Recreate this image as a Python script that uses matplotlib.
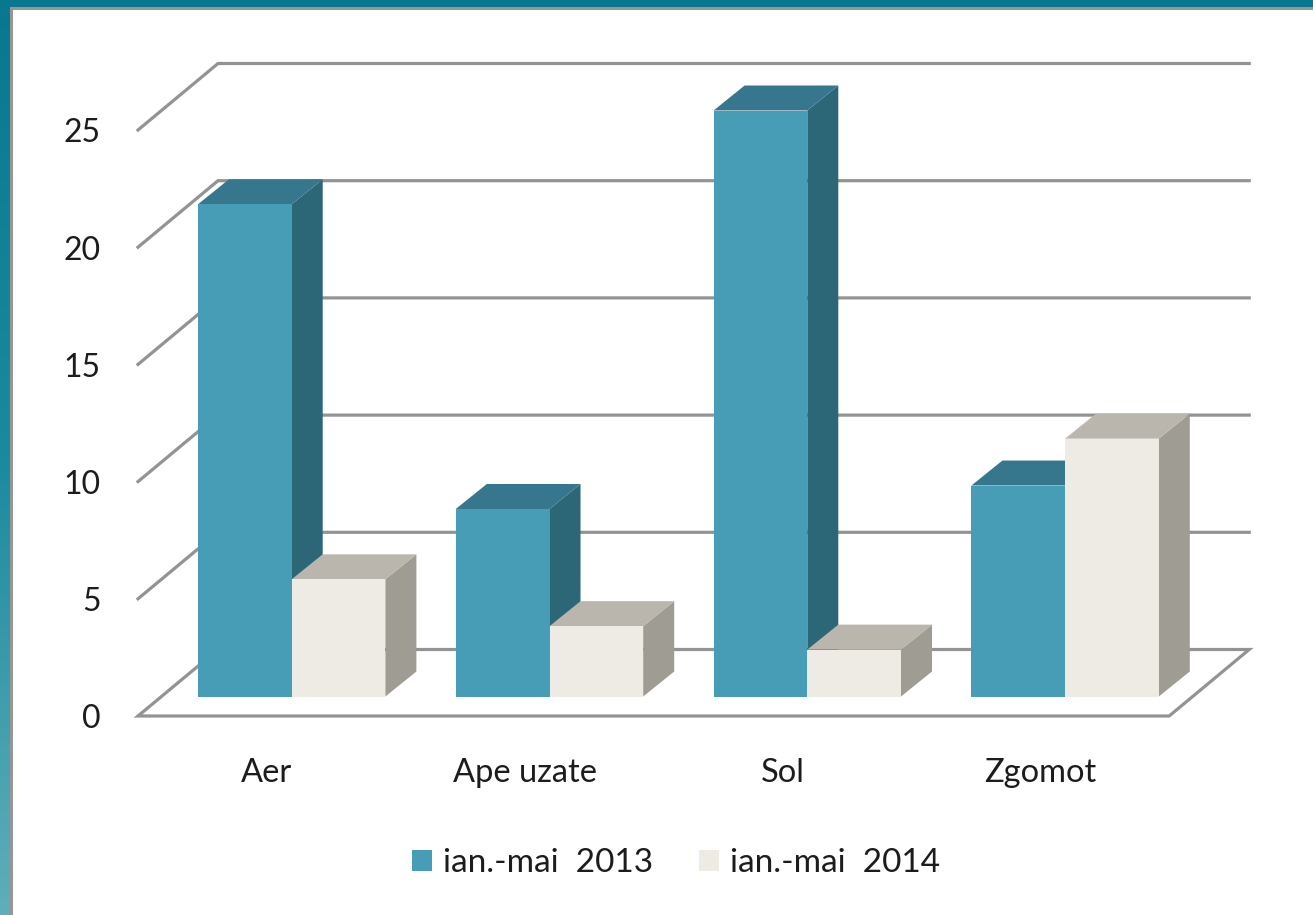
import numpy as np
import matplotlib
matplotlib.use("Agg")
import matplotlib.pyplot as plt
from matplotlib.colors import LinearSegmentedColormap
from matplotlib.patches import Polygon, Rectangle

categories = ["Aer", "Ape uzate", "Sol", "Zgomot"]
values_2013 = [21, 8, 25, 9]
values_2014 = [5, 3, 2, 11]
series_names = ["ian.-mai  2013", "ian.-mai  2014"]
y_ticks = [0, 5, 10, 15, 20, 25]

plt.rcParams["font.family"] = ["Lato", "DejaVu Sans"]

W, H = 1313, 915
# pixels per unit on each axis, and where the front corner of the floor sits
px_cat = 257.8
px_val = 23.44
x0_px = 138.0
y0_px = 716.0

fig = plt.figure(figsize=(W / 100, H / 100), dpi=100)

# teal slide background with white panel
bg = fig.add_axes([0, 0, 1, 1])
teal = LinearSegmentedColormap.from_list("teal", ["#08788f", "#1b8a9e", "#60aeb9"])
bg.imshow(np.linspace(0, 1, 256).reshape(-1, 1), cmap=teal, aspect="auto", extent=(0, W, H, 0))
bg.add_patch(Rectangle((10.5, 7.5), W, H, facecolor="white", edgecolor="#969696", lw=2.2))
bg.set_xlim(0, W)
bg.set_ylim(H, 0)
bg.axis("off")

ax = fig.add_axes([0, 0, 1, 1])
ax.patch.set_alpha(0)
ax.set_xlim(-x0_px / px_cat, (W - x0_px) / px_cat)
ax.set_ylim((y0_px - H) / px_val, y0_px / px_val)
ax.axis("off")

# pseudo 3D offsets
floor_dx = 80 / px_cat
floor_dy = 66.5 / px_val
bar_dx = 31 / px_cat
bar_dy = 25 / px_val
base = 19.5 / px_val
bar_w = 93.7 / px_cat
bar_start = 60 / px_cat
n = len(categories)
grid_color = "#939393"

# walls and floor
for v in y_ticks[1:]:
    ax.plot([0, floor_dx, n + floor_dx], [v, v + floor_dy, v + floor_dy],
            color=grid_color, lw=2.3, zorder=1, solid_joinstyle="miter")
ax.add_patch(Polygon([(0, 0), (n, 0), (n + floor_dx, floor_dy), (floor_dx, floor_dy)],
                     closed=True, facecolor="white", edgecolor=grid_color, lw=2.3, zorder=1))


def draw_bars(xs, vals, front, top, side, label, z):
    for x, v in zip(xs, vals):
        ax.add_patch(Polygon([(x + bar_w, base), (x + bar_w + bar_dx, base + bar_dy),
                              (x + bar_w + bar_dx, base + v + bar_dy), (x + bar_w, base + v)],
                             facecolor=side, lw=0, zorder=z))
        ax.add_patch(Polygon([(x, base + v), (x + bar_w, base + v),
                              (x + bar_w + bar_dx, base + v + bar_dy), (x + bar_dx, base + v + bar_dy)],
                             facecolor=top, lw=0, zorder=z))
    ax.bar(xs, vals, width=bar_w, bottom=base, align="edge", color=front, label=label, zorder=z + 0.5)


x_2013 = np.arange(n) + bar_start
x_2014 = x_2013 + bar_w
draw_bars(x_2013, values_2013, "#479cb6", "#36778d", "#2c6777", series_names[0], 3)
draw_bars(x_2014, values_2014, "#eeebe4", "#bab6ae", "#9f9c94", series_names[1], 4)

# tick labels
for v in y_ticks:
    ax.text(-37 / px_cat, v - 3.5 / px_val, str(v), ha="right", va="center", fontsize=23, color="#1c1c1c")
for i, c in enumerate(categories):
    ax.text(i + 0.5, -57.5 / px_val, c, ha="center", va="center", fontsize=23.5, color="#1c1c1c")

ax.legend(loc="center", bbox_to_anchor=(676 / W, 1 - 863 / H), ncols=2, frameon=False,
          fontsize=24, labelcolor="#1c1c1c", handlelength=0.6, handleheight=0.6,
          handletextpad=0.35, columnspacing=1.35, borderpad=0)

fig.savefig("out.png", dpi=100)
